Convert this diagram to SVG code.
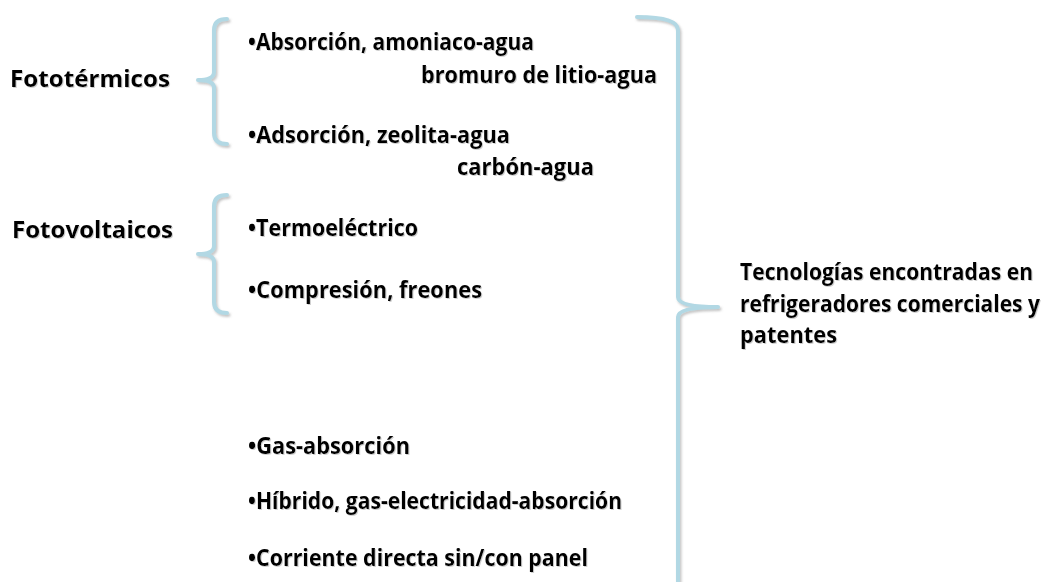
<svg xmlns="http://www.w3.org/2000/svg" width="1047" height="582" viewBox="0 0 1047 582">
<defs>
<filter id="sh" x="-20%" y="-5%" width="140%" height="110%">
<feDropShadow dx="1.5" dy="2" stdDeviation="1" flood-color="#808080" flood-opacity="0.45"/>
</filter>
<filter id="tsh" x="-5%" y="-20%" width="110%" height="140%">
<feDropShadow dx="1" dy="1" stdDeviation="0.6" flood-color="#a0a0a0" flood-opacity="0.5"/>
</filter>
<style>
.br{fill:none;stroke:#b2d8e4;stroke-width:4;stroke-linecap:round;stroke-linejoin:round;filter:url(#sh)}
.t{font-family:"Open Sans","Noto Sans","Liberation Sans",sans-serif;font-weight:bold;font-size:23px;fill:#000;filter:url(#tsh)}
</style>
</defs>
<rect width="1047" height="582" fill="#ffffff"/>
<g id="connectors">
<path class="br" d="M227,19 Q214,19 214,30 V72 Q214,80 198,80 Q214,80 214,88 V133 Q214,144 227,144"/>
<path class="br" d="M227,195 Q214,195 214,206 V246 Q214,254 198,254 Q214,254 214,262 V302 Q214,313 227,313"/>
<path class="br" d="M637,17 Q678,17 678,30 V297 Q678,307 718,307 Q678,307 678,317 V600"/>
</g>
<g id="fototermicos"><text class="t" x="10" y="87" textLength="160" lengthAdjust="spacingAndGlyphs">Fototérmicos</text></g>
<g id="fotovoltaicos"><text class="t" x="12" y="238" textLength="161" lengthAdjust="spacingAndGlyphs">Fotovoltaicos</text></g>
<g id="absorcion">
<text class="t" x="248" y="50" textLength="286" lengthAdjust="spacingAndGlyphs">•Absorción, amoniaco-agua</text>
<text class="t" x="421" y="83" textLength="236" lengthAdjust="spacingAndGlyphs">bromuro de litio-agua</text>
</g>
<g id="adsorcion">
<text class="t" x="248" y="143" textLength="262" lengthAdjust="spacingAndGlyphs">•Adsorción, zeolita-agua</text>
<text class="t" x="457" y="175" textLength="137" lengthAdjust="spacingAndGlyphs">carbón-agua</text>
</g>
<g id="termoelectrico"><text class="t" x="248" y="236" textLength="170" lengthAdjust="spacingAndGlyphs">•Termoeléctrico</text></g>
<g id="compresion"><text class="t" x="248" y="298" textLength="234" lengthAdjust="spacingAndGlyphs">•Compresión, freones</text></g>
<g id="gas-absorcion"><text class="t" x="248" y="454" textLength="162" lengthAdjust="spacingAndGlyphs">•Gas-absorción</text></g>
<g id="hibrido"><text class="t" x="248" y="509" textLength="374" lengthAdjust="spacingAndGlyphs">•Híbrido, gas-electricidad-absorción</text></g>
<g id="corriente"><text class="t" x="248" y="566" textLength="340" lengthAdjust="spacingAndGlyphs">•Corriente directa sin/con panel</text></g>
<g id="tecnologias">
<text class="t" x="740" y="280" textLength="293" lengthAdjust="spacingAndGlyphs">Tecnologías encontradas en</text>
<text class="t" x="740" y="312" textLength="300" lengthAdjust="spacingAndGlyphs">refrigeradores comerciales y</text>
<text class="t" x="740" y="343" textLength="97" lengthAdjust="spacingAndGlyphs">patentes</text>
</g>
</svg>
